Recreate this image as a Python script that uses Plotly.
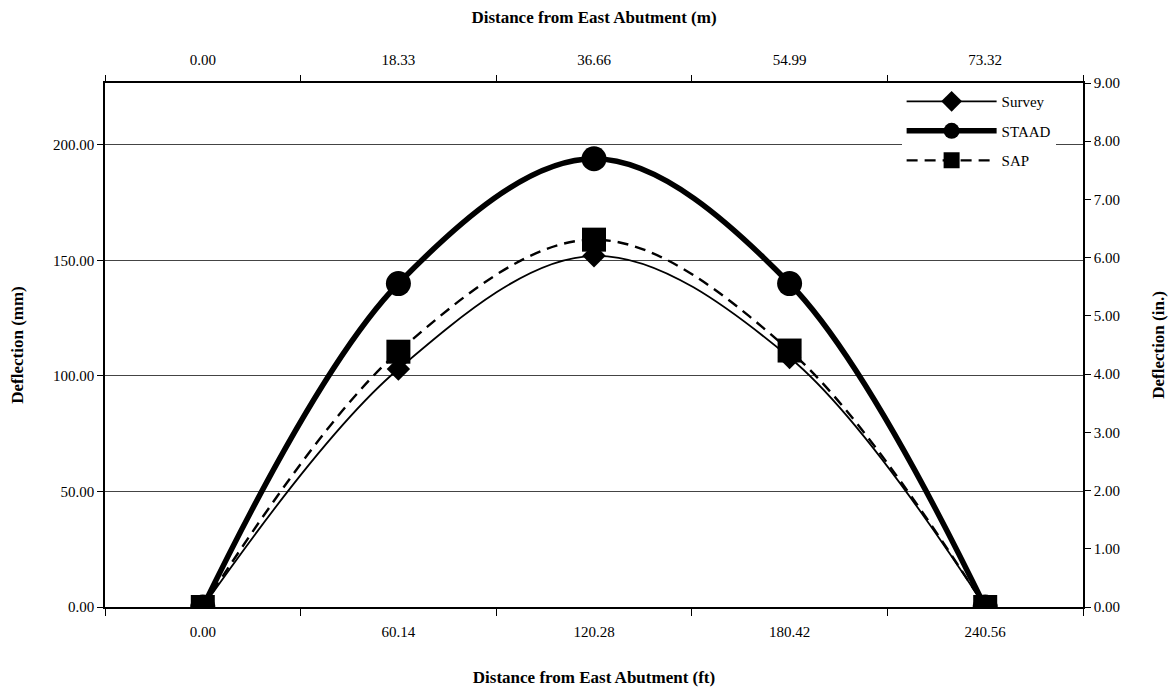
import plotly.graph_objects as go

# Data
positions = [0, 1, 2, 3, 4]
ft_labels = ["0.00", "60.14", "120.28", "180.42", "240.56"]
m_labels = ["0.00", "18.33", "36.66", "54.99", "73.32"]
survey = [0, 103, 152, 108, 0]
staad = [0, 140, 194, 140, 0]
sap = [0, 110.5, 159, 111, 0]

FONT = "Liberation Serif, Times New Roman, serif"

fig = go.Figure()
fig.add_trace(go.Scatter(
    x=positions, y=survey, name="Survey", mode="lines+markers", legendgroup="a",
    line=dict(color="black", width=1.8, shape="spline", smoothing=1),
    marker=dict(symbol="diamond", size=18, color="black"),
))
fig.add_trace(go.Scatter(
    x=positions, y=staad, name="STAAD", mode="lines+markers", legendgroup="b",
    line=dict(color="black", width=5.5, shape="spline", smoothing=1),
    marker=dict(symbol="circle", size=25, color="black"),
))
fig.add_trace(go.Scatter(
    x=positions, y=sap, name="SAP", mode="lines+markers", legendgroup="c",
    line=dict(color="black", width=2.4, dash="11px,7px", shape="spline", smoothing=1),
    marker=dict(symbol="square", size=24, color="black"),
))
# invisible traces to activate secondary axes
fig.add_trace(go.Scatter(x=positions, y=[0]*5, xaxis="x2", yaxis="y", showlegend=False,
                         mode="markers", marker=dict(opacity=0), hoverinfo="skip"))
fig.add_trace(go.Scatter(x=positions, y=[0]*5, xaxis="x", yaxis="y2", showlegend=False,
                         mode="markers", marker=dict(opacity=0), hoverinfo="skip"))

bounds = [-0.5, 0.5, 1.5, 2.5, 3.5, 4.5]
tickfont = dict(family=FONT, size=15, color="black")
titlefont = dict(family=FONT, size=17, color="black", weight="bold")

fig.update_layout(
    width=1173, height=694,
    margin=dict(l=105, r=90, t=83, b=87),
    paper_bgcolor="white", plot_bgcolor="white",
    font=dict(family=FONT, color="black"),
    showlegend=True,
    legend=dict(x=0.972, y=0.996, xanchor="right", yanchor="top",
                bgcolor="white", font=dict(family=FONT, size=15, color="black"),
                itemwidth=90, tracegroupgap=7, traceorder="grouped"),
    xaxis=dict(
        range=[-0.5, 4.5], tickmode="array", tickvals=positions, ticktext=ft_labels,
        ticks="", showgrid=False, zeroline=False, showline=True, linecolor="black", linewidth=1.5,
        tickfont=tickfont, ticklabelstandoff=10,
        minor=dict(tickmode="array", tickvals=bounds, ticks="outside", ticklen=7,
                   tickwidth=1.2, tickcolor="black", showgrid=False),
        title=dict(text="Distance from East Abutment (ft)", font=titlefont, standoff=32),
        automargin=False,
    ),
    xaxis2=dict(
        overlaying="x", side="top", anchor="y",
        range=[-0.5, 4.5], tickmode="array", tickvals=positions, ticktext=m_labels,
        ticks="", showgrid=False, zeroline=False, showline=True, linecolor="black", linewidth=1.5,
        tickfont=tickfont, ticklabelstandoff=10,
        minor=dict(tickmode="array", tickvals=bounds, ticks="outside", ticklen=6,
                   tickwidth=1.2, tickcolor="black", showgrid=False),
        title=dict(text="Distance from East Abutment (m)", font=titlefont, standoff=24),
        automargin=False,
    ),
    yaxis=dict(
        range=[0, 226.8], tickmode="array", tickvals=[0, 50, 100, 150, 200], tickformat=".2f",
        ticks="outside", ticklen=6, tickwidth=1.2, tickcolor="black",
        showgrid=True, gridcolor="#444444", gridwidth=1, zeroline=False,
        showline=True, linecolor="black", linewidth=1.5, tickfont=tickfont,
        title=dict(text="Deflection (mm)", font=titlefont, standoff=25),
        automargin=False,
    ),
    yaxis2=dict(
        overlaying="y", side="right", anchor="x",
        range=[0, 9], tickmode="array", tickvals=list(range(10)), tickformat=".2f",
        ticks="outside", ticklen=6, tickwidth=1.2, tickcolor="black",
        showgrid=False, zeroline=False,
        showline=True, linecolor="black", linewidth=1.5, tickfont=tickfont,
        title=dict(text="Deflection (in.)", font=titlefont, standoff=33),
        automargin=False,
    ),
)

fig.write_html("out.html")
